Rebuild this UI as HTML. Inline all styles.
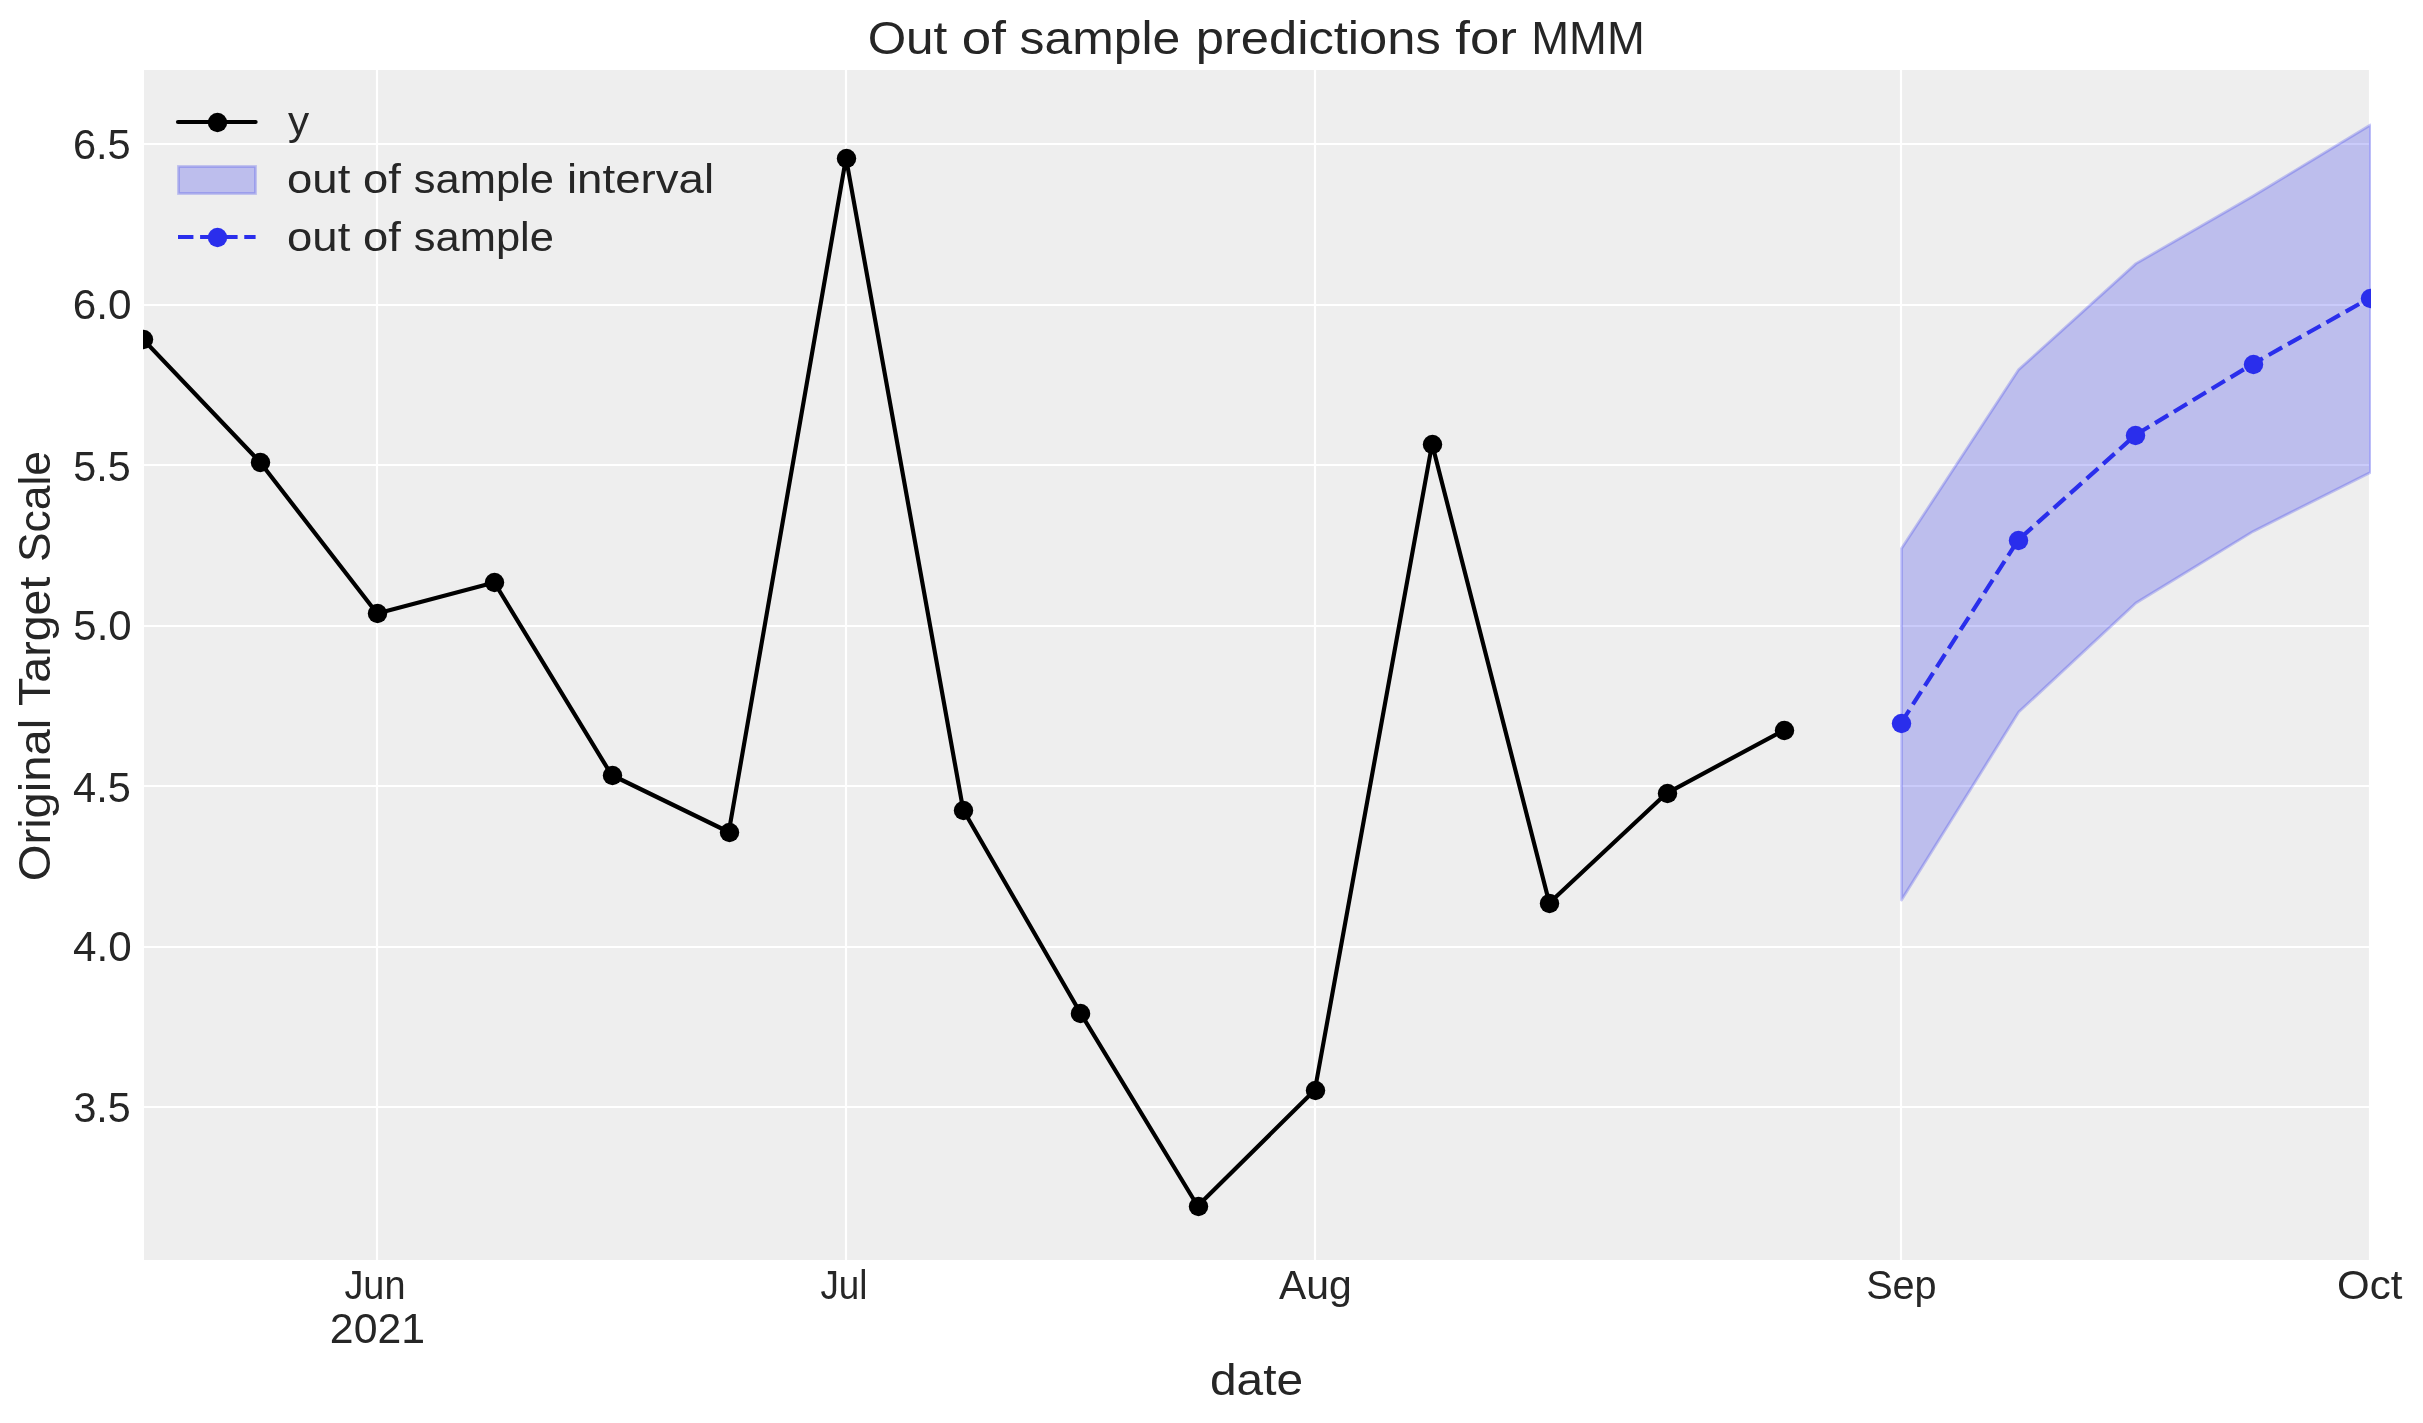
<!DOCTYPE html>
<html><head><meta charset="utf-8"><title>Out of sample predictions for MMM</title>
<style>html,body{margin:0;padding:0;background:#fff}svg{display:block}text{font-family:"Liberation Sans",sans-serif;fill:#262626}</style></head>
<body>
<svg width="2423" height="1423" viewBox="0 0 2423 1423">
<rect x="0" y="0" width="2423" height="1423" fill="#ffffff"/>
<defs><clipPath id="ax"><rect x="143" y="70" width="2228" height="1190"/></clipPath></defs>
<rect x="144" y="70" width="2226" height="1190" fill="#eeeeee"/>
<g clip-path="url(#ax)">
<g stroke="#ffffff" stroke-width="2.2" fill="none">
<line x1="377" y1="70" x2="377" y2="1260"/>
<line x1="846" y1="70" x2="846" y2="1260"/>
<line x1="1315" y1="70" x2="1315" y2="1260"/>
<line x1="1901" y1="70" x2="1901" y2="1260"/>
<line x1="2370" y1="70" x2="2370" y2="1260"/>
<line x1="144" y1="144" x2="2371" y2="144"/>
<line x1="144" y1="305" x2="2371" y2="305"/>
<line x1="144" y1="465" x2="2371" y2="465"/>
<line x1="144" y1="626" x2="2371" y2="626"/>
<line x1="144" y1="786" x2="2371" y2="786"/>
<line x1="144" y1="947" x2="2371" y2="947"/>
<line x1="144" y1="1107" x2="2371" y2="1107"/>
</g>
<polyline points="142.69,339.00 259.91,462.00 377.13,613.50 494.35,582.50 611.57,775.00 728.79,832.00 846.01,158.00 963.23,810.00 1080.45,1013.00 1197.67,1206.00 1314.89,1090.00 1432.11,444.00 1549.33,903.00 1666.55,793.30 1783.77,730.30" fill="none" stroke="#000" stroke-width="4.17" stroke-linejoin="round" stroke-linecap="round"/>
<g fill="#000"><circle cx="143.5" cy="339.5" r="9.72"/><circle cx="260.5" cy="462.5" r="9.72"/><circle cx="377.5" cy="613.5" r="9.72"/><circle cx="494.5" cy="582.5" r="9.72"/><circle cx="612.5" cy="775.5" r="9.72"/><circle cx="729.5" cy="832.5" r="9.72"/><circle cx="846.5" cy="158.5" r="9.72"/><circle cx="963.5" cy="810.5" r="9.72"/><circle cx="1080.5" cy="1013.5" r="9.72"/><circle cx="1198.5" cy="1206.5" r="9.72"/><circle cx="1315.5" cy="1090.5" r="9.72"/><circle cx="1432.5" cy="444.5" r="9.72"/><circle cx="1549.5" cy="903.5" r="9.72"/><circle cx="1667.5" cy="793.5" r="9.72"/><circle cx="1784.5" cy="730.5" r="9.72"/></g>
<polygon points="1901.49,548.40 2018.71,369.60 2135.93,263.60 2253.15,196.00 2370.37,125.00 2370.37,472.50 2253.15,531.40 2135.93,603.00 2018.71,712.10 1901.49,900.00" fill="rgba(42,46,236,0.25)" stroke="none"/>
<polygon points="1901.49,548.40 2018.71,369.60 2135.93,263.60 2253.15,196.00 2370.37,125.00 2370.37,472.50 2253.15,531.40 2135.93,603.00 2018.71,712.10 1901.49,900.00" fill="none" stroke="rgba(42,46,236,0.25)" stroke-width="2.78" stroke-linejoin="round"/>
<polyline points="1900.99,723.00 2018.21,540.00 2135.43,435.00 2252.65,364.00 2369.87,298.00" fill="none" stroke="#2a2eec" stroke-width="4.17" stroke-dasharray="15.42 6.67" stroke-linejoin="round"/>
<g fill="#2a2eec"><circle cx="1901.5" cy="723.5" r="9.72"/><circle cx="2018.5" cy="540.5" r="9.72"/><circle cx="2135.5" cy="435.5" r="9.72"/><circle cx="2253.5" cy="364.5" r="9.72"/><circle cx="2370.5" cy="298.5" r="9.72"/></g>
</g>
<line x1="178.0" y1="122.0" x2="255.6" y2="122.0" stroke="#000" stroke-width="4.17" stroke-linecap="round"/>
<circle cx="217.5" cy="122.5" r="9.72" fill="#000"/>
<rect x="178.5" y="166.5" width="77" height="27" fill="rgba(42,46,236,0.25)"/>
<rect x="178.5" y="166.5" width="77" height="27" fill="none" stroke="rgba(42,46,236,0.25)" stroke-width="2.78"/>
<line x1="178.0" y1="237.0" x2="255.6" y2="237.0" stroke="#2a2eec" stroke-width="4.17" stroke-dasharray="15.42 6.67"/>
<circle cx="217.5" cy="237.5" r="9.72" fill="#2a2eec"/>
<g opacity="0.999">
<text x="867.66" y="53.60" font-size="46.6" textLength="79.70" lengthAdjust="spacingAndGlyphs">Out</text>
<text x="961.78" y="53.60" font-size="46.6" textLength="44.15" lengthAdjust="spacingAndGlyphs">of</text>
<text x="1019.61" y="53.60" font-size="46.6" textLength="160.60" lengthAdjust="spacingAndGlyphs">sample</text>
<text x="1195.73" y="53.60" font-size="46.6" textLength="245.10" lengthAdjust="spacingAndGlyphs">predictions</text>
<text x="1455.25" y="53.60" font-size="46.6" textLength="61.62" lengthAdjust="spacingAndGlyphs">for</text>
<text x="1531.28" y="53.60" font-size="46.6" textLength="113.45" lengthAdjust="spacingAndGlyphs">MMM</text>
<text transform="translate(49.7,879) rotate(-90)" x="-2.23" y="0" font-size="43.7" textLength="162.38" lengthAdjust="spacingAndGlyphs">Original</text>
<text transform="translate(49.7,705) rotate(-90)" x="-1.01" y="0" font-size="43.7" textLength="129.33" lengthAdjust="spacingAndGlyphs">Target</text>
<text transform="translate(49.7,560) rotate(-90)" x="-2.01" y="0" font-size="43.7" textLength="110.99" lengthAdjust="spacingAndGlyphs">Scale</text>
<text x="1209.99" y="1394.70" font-size="43.7" textLength="93.14" lengthAdjust="spacingAndGlyphs">date</text>
<text x="72.89" y="158.80" font-size="41.9" textLength="57.86" lengthAdjust="spacingAndGlyphs">6.5</text>
<text x="72.85" y="318.80" font-size="41.9" textLength="58.80" lengthAdjust="spacingAndGlyphs">6.0</text>
<text x="73.35" y="480.80" font-size="41.9" textLength="57.39" lengthAdjust="spacingAndGlyphs">5.5</text>
<text x="73.32" y="639.80" font-size="41.9" textLength="58.32" lengthAdjust="spacingAndGlyphs">5.0</text>
<text x="73.05" y="801.80" font-size="41.9" textLength="57.70" lengthAdjust="spacingAndGlyphs">4.5</text>
<text x="73.03" y="960.80" font-size="41.9" textLength="58.61" lengthAdjust="spacingAndGlyphs">4.0</text>
<text x="73.43" y="1121.80" font-size="41.9" textLength="57.30" lengthAdjust="spacingAndGlyphs">3.5</text>
<text x="344.41" y="1299.40" font-size="41.4" textLength="61.05" lengthAdjust="spacingAndGlyphs">Jun</text>
<text x="329.85" y="1342.80" font-size="41.9" textLength="95.24" lengthAdjust="spacingAndGlyphs">2021</text>
<text x="820.43" y="1299.40" font-size="41.4" textLength="47.04" lengthAdjust="spacingAndGlyphs">Jul</text>
<text x="1278.92" y="1299.40" font-size="41.4" textLength="72.71" lengthAdjust="spacingAndGlyphs">Aug</text>
<text x="1866.20" y="1299.40" font-size="41.4" textLength="70.46" lengthAdjust="spacingAndGlyphs">Sep</text>
<text x="2337.01" y="1299.40" font-size="41.4" textLength="65.30" lengthAdjust="spacingAndGlyphs">Oct</text>
<text x="287.90" y="135.30" font-size="40.8" textLength="21.19" lengthAdjust="spacingAndGlyphs">y</text>
<text x="287.09" y="193.00" font-size="40.8" textLength="63.24" lengthAdjust="spacingAndGlyphs">out</text>
<text x="363.09" y="193.00" font-size="40.8" textLength="37.84" lengthAdjust="spacingAndGlyphs">of</text>
<text x="413.79" y="193.00" font-size="40.8" textLength="140.14" lengthAdjust="spacingAndGlyphs">sample</text>
<text x="566.95" y="193.00" font-size="40.8" textLength="147.11" lengthAdjust="spacingAndGlyphs">interval</text>
<text x="287.09" y="251.00" font-size="40.8" textLength="63.24" lengthAdjust="spacingAndGlyphs">out</text>
<text x="363.09" y="251.00" font-size="40.8" textLength="37.84" lengthAdjust="spacingAndGlyphs">of</text>
<text x="413.79" y="251.00" font-size="40.8" textLength="140.14" lengthAdjust="spacingAndGlyphs">sample</text>
</g>
</svg>
</body></html>
